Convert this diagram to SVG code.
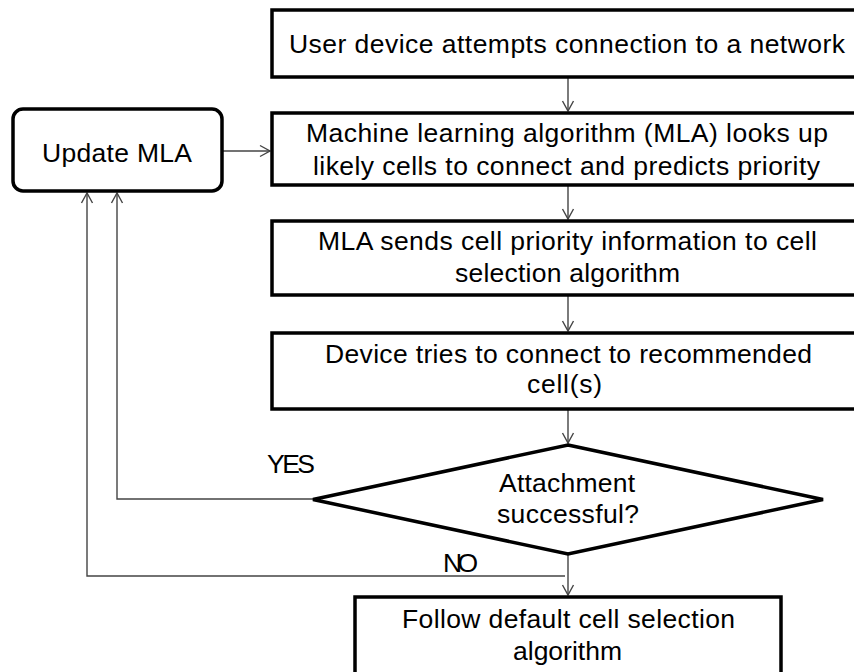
<svg xmlns="http://www.w3.org/2000/svg" width="854" height="672" viewBox="0 0 854 672">
<style>
.box{fill:#fff;stroke:#000;stroke-width:3.5}
.t{font-family:"Liberation Sans",Arial,sans-serif;font-size:26.5px;fill:#000}
.c{fill:none;stroke:#444;stroke-width:1.4}
</style>
<defs>
<marker id="ah" markerUnits="userSpaceOnUse" markerWidth="14" markerHeight="14" viewBox="-12 -7 14 14" refX="0" refY="0" orient="auto">
<path d="M-10,-5.5 L0,0 L-10,5.5" fill="none" stroke="#444" stroke-width="1.4"/>
</marker>
</defs>
<rect width="854" height="672" fill="#fff"/>
<g id="connectors">
<path class="c" d="M568,77 V111" marker-end="url(#ah)"/>
<path class="c" d="M568,185 V219" marker-end="url(#ah)"/>
<path class="c" d="M568,295 V331" marker-end="url(#ah)"/>
<path class="c" d="M568,409 V443" marker-end="url(#ah)"/>
<path class="c" d="M568,554 V595" marker-end="url(#ah)"/>
<path class="c" d="M222,151 H270" marker-end="url(#ah)"/>
<path class="c" d="M313,499 H117 V193" marker-end="url(#ah)"/>
<path class="c" d="M565,576 H87 V193" marker-end="url(#ah)"/>
<text class="t" x="267" y="473" textLength="48">YES</text>
<text class="t" x="443" y="572" textLength="35">NO</text>
</g>
<g id="n1">
<rect class="box" x="272" y="10" width="592" height="67"/>
<text class="t" x="289" y="53" textLength="556">User device attempts connection to a network</text>
</g>
<g id="n2">
<rect class="box" x="272" y="113" width="592" height="72"/>
<text class="t" x="306" y="142" textLength="522">Machine learning algorithm (MLA) looks up</text>
<text class="t" x="313" y="175" textLength="507">likely cells to connect and predicts priority</text>
</g>
<g id="n3">
<rect class="box" x="272" y="221" width="592" height="74"/>
<text class="t" x="318" y="250" textLength="499">MLA sends cell priority information to cell</text>
<text class="t" x="455" y="282" textLength="225">selection algorithm</text>
</g>
<g id="n4">
<rect class="box" x="272" y="333" width="592" height="76"/>
<text class="t" x="325" y="363" textLength="487">Device tries to connect to recommended</text>
<text class="t" x="527" y="393" textLength="75">cell(s)</text>
</g>
<g id="n5">
<polygon class="box" points="568,445 823,499.5 568,554 313,499.5"/>
<text class="t" x="499" y="492" textLength="136">Attachment</text>
<text class="t" x="497" y="523" textLength="142">successful?</text>
</g>
<g id="n6">
<rect class="box" x="355" y="597" width="426" height="100"/>
<text class="t" x="402" y="628" textLength="333">Follow default cell selection</text>
<text class="t" x="513" y="660" textLength="109">algorithm</text>
</g>
<g id="n7">
<rect class="box" x="13" y="109" width="209" height="82" rx="10"/>
<text class="t" x="42" y="162" textLength="150">Update MLA</text>
</g>
</svg>
